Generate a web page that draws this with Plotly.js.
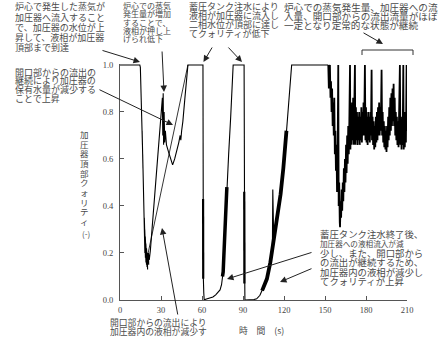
<!DOCTYPE html>
<html><head><meta charset="utf-8">
<script src="https://cdn.plot.ly/plotly-3.0.1.min.js"></script>
<style>body{margin:0;background:#fff}#chart{width:443px;height:337px}</style>
</head><body><div id="chart"></div>
<script>
// ---- data: time (s) and pressurizer-top quality (-) ----
const tSeg1 = [0, 14.5, 14.9, 15.2, 15.0, 15.6, 15.4, 16.0, 15.8, 16.4, 16.2, 16.8, 16.6, 17.2, 17.0, 17.6, 17.4, 17.9, 17.5, 18.0, 17.6, 18.2, 17.8, 18.6, 18.1, 19.0, 18.5, 19.4, 18.9, 19.8, 19.4, 20.2, 19.9, 20.6, 20.4, 21.0, 20.8, 21.4, 21.8, 22.2,
  31.0, 31.3, 31.6, 31.9, 32.3, 32.7, 33.2, 34.0, 35.5, 37.0, 38.5, 40.0, 41.5, 43.0, 44.0, 44.5, 45.1, 46.0, 47.5, 49.7, 60.7];
const qSeg1 = [1.0, 1.0, 0.99, 0.94, 0.97, 0.85, 0.90, 0.76, 0.82, 0.66, 0.72, 0.56, 0.62, 0.46, 0.52, 0.38, 0.44, 0.25, 0.42, 0.22, 0.40, 0.20, 0.35, 0.18, 0.30, 0.16, 0.27, 0.15, 0.24, 0.14, 0.22, 0.13, 0.20, 0.14, 0.19, 0.15, 0.20, 0.17, 0.19, 0.21,
  0.86, 0.70, 0.88, 0.66, 0.80, 0.67, 0.72, 0.66, 0.63, 0.60, 0.575, 0.60, 0.63, 0.67, 0.70, 0.68, 0.72, 0.76, 0.86, 1.0, 1.0];
const tSeg2 = [60.7, 60.7, 61.1, 60.8, 61.2, 60.9, 61.2, 61.0, 61.3, 61.6, 62.7, 64, 66, 68, 70, 71.5, 73.2, 74.3, 75.0, 75.5, 76.0, 76.5, 77.0, 77.5, 78.2, 79.5, 81.0, 82.8, 90.8];
const qSeg2 = [1.0, 0.45, 0.40, 0.33, 0.27, 0.20, 0.14, 0.09, 0.03, 0.0, 0.003, 0.006, 0.009, 0.013, 0.022, 0.03, 0.043, 0.065, 0.10, 0.12, 0.19, 0.26, 0.33, 0.40, 0.48, 0.62, 0.78, 1.0, 1.0];
const tSeg3 = [90.8, 90.8, 91.2, 90.9, 91.3, 91.4, 93, 96, 98, 100, 101, 102.4, 103.5, 104.8, 106, 107.5, 110, 111.5, 111.8, 112.5, 115, 117.5, 119.5, 120.8, 121.8, 123.0, 124.2, 125.6, 152.4];
const qSeg3 = [1.0, 0.47, 0.20, 0.30, 0.07, 0.0, 0.0, 0.0, 0.002, 0.005, 0.01, 0.02, 0.035, 0.05, 0.065, 0.09, 0.16, 0.21, 0.47, 0.25, 0.34, 0.45, 0.56, 0.64, 0.72, 0.82, 0.91, 1.0, 1.0];
// densely oscillating (dark band) stretches
const tBand2 = [75.0, 75.5, 76.0, 76.5, 77.0, 77.5, 78.2];
const qBand2 = [0.10, 0.12, 0.19, 0.26, 0.33, 0.40, 0.48];
const tBand3 = [104.0, 106.0, 107.5, 110.0, 112.5, 115.0, 117.5, 119.5, 120.8, 121.8];
const qBand3 = [0.04, 0.065, 0.09, 0.16, 0.25, 0.34, 0.45, 0.56, 0.64, 0.72];
const tDrop2 = [60.8, 60.9];
const qDrop2 = [0.43, 0.09];
const tDrop3 = [90.9, 91.0];
const qDrop3 = [0.46, 0.07];
const tSeg4 = [152.4, 152.8, 153.2, 153.6, 154.0, 154.4, 154.8, 155.2, 155.6, 156.0, 156.4, 156.8, 157.2, 157.6, 158.0, 158.4, 158.8, 159.2, 159.7, 160.0,
  160.4, 160.8, 161.0, 161.4, 161.8, 162.2, 162.6, 163.0, 163.4, 163.8, 164.2, 164.6, 165.0, 165.4, 165.8, 166.2, 166.6, 167.0, 167.4, 167.8,
  168.3, 168.6, 169.0, 169.4, 169.8, 170.2, 170.6, 171.0, 171.4, 171.9, 172.2, 172.6, 173.0, 173.4, 173.8, 174.2, 174.6, 175.0, 175.4, 175.8,
  176.2, 176.6, 177.0, 177.4, 177.8, 178.2, 178.6, 179.2, 179.6, 180.0, 180.4, 180.8, 181.2, 181.6, 182.0, 182.4, 182.8, 183.2, 183.6, 184.1,
  184.4, 184.8, 185.2, 185.6, 186.0, 186.4, 186.8, 187.2, 187.6, 188.0, 188.4, 188.8, 189.2, 189.6, 190.0, 190.4, 190.8, 191.4, 191.8, 192.2,
  192.6, 193.0, 193.4, 193.8, 194.2, 194.6, 195.0, 195.4, 195.8, 196.2, 196.6, 197.0, 197.4, 197.8, 198.2, 198.6, 199.0, 199.4, 199.8, 200.2,
  200.6, 201.0, 201.4, 201.8, 202.2, 202.6, 203.0, 203.4, 203.8, 204.2, 204.8, 205.2, 205.6, 206.0, 206.4, 206.8, 207.3, 207.6, 208.0, 208.4,
  208.8, 209.2, 209.7, 210.0];
const qSeg4 = [1.0, 0.90, 0.97, 1.00, 0.86, 0.93, 0.80, 0.90, 0.74, 0.84, 0.70, 0.86, 0.62, 0.72, 0.55, 0.66, 0.46, 0.58, 1.00, 0.40,
  0.50, 0.33, 0.31, 0.42, 0.35, 0.47, 0.38, 0.50, 0.42, 0.56, 0.46, 0.60, 0.50, 0.66, 0.54, 0.70, 0.58, 0.74, 0.62, 0.76,
  1.00, 0.64, 0.80, 0.66, 0.84, 0.68, 0.86, 0.66, 0.88, 1.00, 0.66, 0.82, 0.68, 0.80, 0.66, 0.78, 0.68, 0.80, 0.66, 0.78,
  0.68, 0.82, 0.67, 0.80, 0.70, 0.84, 0.70, 1.00, 0.68, 0.82, 0.67, 0.78, 0.66, 0.80, 0.68, 0.78, 0.67, 0.80, 0.70, 0.98,
  0.68, 0.78, 0.66, 0.76, 0.64, 0.74, 0.65, 0.78, 0.67, 0.80, 0.68, 0.82, 0.70, 0.84, 0.70, 0.82, 0.72, 0.98, 0.70, 0.80,
  0.67, 0.76, 0.65, 0.74, 0.64, 0.72, 0.63, 0.74, 0.65, 0.78, 0.68, 0.82, 0.70, 0.86, 0.72, 0.88, 0.74, 0.90, 0.76, 0.92,
  0.74, 0.86, 0.70, 0.80, 0.68, 0.78, 0.66, 0.76, 0.65, 0.78, 1.00, 0.66, 0.78, 0.64, 0.76, 0.66, 1.00, 0.64, 0.76, 0.65,
  0.80, 0.67, 1.00, 0.72];
// thin straight branch from the first minimum to the top
const tBranch = [19.5, 49.7];
const qBranch = [0.17, 1.0];

const xTicks = [0, 30, 60, 90, 120, 150, 180, 210];
const yTicks = [0, 0.2, 0.4, 0.6, 0.8, 1.0];
const yTickText = ['0.0', '0.2', '0.4', '0.6', '0.8', '1.0'];

const xTitle = '時　間　(s)';
const yTitleChars = '加圧器頂部クォリティ';
const yUnit = '(-)';

const notes = [
  {x: 13, y0: 7, dy: 10.1, size: 9, lines: ['炉心で発生した蒸気が', '加圧器へ流入すること', 'で、加圧器の水位が上', '昇して、液相が加圧器', '頂部まで到達']},
  {x: 13, y0: 72, dy: 8.9, size: 9, lines: ['開口部からの流出の', '継続により加圧器の', '保有水量が減少する', 'ことで上昇']},
  {x: 121, y0: 5.5, dy: 8.3, size: 8, lines: ['炉心での蒸気', '発生量が増加', 'することで、', '液相が押し上', 'げられ低下']},
  {x: 187, y0: 6.7, dy: 8.9, size: 9, lines: ['蓄圧タンク注水により', '液相が加圧器に流入し', '二相水位が頂部に達し', 'てクォリティが低下']},
  {x: 282, y0: 6.5, dy: 9.2, size: 9.6, lines: ['炉心での蒸気発生量、加圧器への流', '入量、開口部からの流出流量がほぼ', '一定となり定常的な状態が継続']},
  {x: 318, y0: 234, dy: 9.4, size: 9.4, lines: ['蓄圧タンク注水終了後、', '加圧器への液相流入が減', '少し、また、開口部から', 'の流出が継続するため、', '加圧器内の液相が減少し', 'てクォリティが上昇']},
  {x: 108, y0: 322.5, dy: 8.5, size: 8.8, lines: ['開口部からの流出により', '加圧器内の液相が減少す']}
];
// arrows: head (hx,hy) and tail (tx,ty) in page pixels
const arrows = [
  {hx: 140, hy: 62, tx: 101, ty: 50},
  {hx: 173, hy: 125, tx: 98, ty: 89},
  {hx: 164, hy: 92, tx: 162, ty: 50},
  {hx: 203.5, hy: 62, tx: 213, ty: 46},
  {hx: 242, hy: 62, tx: 227, ty: 46},
  {hx: 383, hy: 44, tx: 362, ty: 32},
  {hx: 227, hy: 279, tx: 313, ty: 252},
  {hx: 280, hy: 282, tx: 313, ty: 268},
  {hx: 162, hy: 228, tx: 178, ty: 316}
];

const L = 120, R = 407, T = 64, B = 300;
const px = x => (x - L) / (R - L);
const py = y => (B - y) / (B - T);
const FONT = '"Noto Sans CJK JP", "Noto Sans", sans-serif';
const TXT = '#4a4a4a';

const annotations = [];
notes.forEach(n => n.lines.forEach((s, i) => {
  annotations.push({xref: 'paper', yref: 'paper', x: px(n.x), y: py(n.y0 + i * n.dy), xanchor: 'left', yanchor: 'middle',
    text: s, showarrow: false, font: {family: FONT, size: (n.size === 9.4 && i === 1) ? 7.6 : n.size, color: TXT}});
}));
arrows.forEach(a => annotations.push({xref: 'paper', yref: 'paper', x: px(a.hx), y: py(a.hy), ax: a.tx - a.hx, ay: a.ty - a.hy,
  axref: 'pixel', ayref: 'pixel', text: '', showarrow: true, arrowhead: 2, arrowsize: 1.3, arrowwidth: 1, arrowcolor: '#222', standoff: 0}));
Array.from(yTitleChars).forEach((c, i) => annotations.push({xref: 'paper', yref: 'paper', x: px(84.5), y: py(134 + i * 9.67),
  xanchor: 'center', yanchor: 'middle', text: c, showarrow: false, font: {family: FONT, size: 8.5, color: TXT}}));
annotations.push({xref: 'paper', yref: 'paper', x: px(85.5), y: py(233.5), xanchor: 'center', yanchor: 'middle', text: yUnit,
  showarrow: false, font: {family: FONT, size: 8, color: TXT}});
annotations.push({xref: 'paper', yref: 'paper', x: px(237), y: py(330.5), xanchor: 'left', yanchor: 'middle', text: xTitle,
  showarrow: false, font: {family: FONT, size: 8.8, color: TXT}});

const shapes = [
  {type: 'line', xref: 'paper', yref: 'paper', x0: px(362), x1: px(413), y0: py(50), y1: py(50), line: {color: '#333', width: 1}},
  {type: 'line', xref: 'paper', yref: 'paper', x0: px(362), x1: px(362), y0: py(50), y1: py(55), line: {color: '#333', width: 1}},
  {type: 'line', xref: 'paper', yref: 'paper', x0: px(413), x1: px(413), y0: py(50), y1: py(55), line: {color: '#333', width: 1}}
];

const mainT = tSeg1.concat(tSeg2, tSeg3);
const mainQ = qSeg1.concat(qSeg2, qSeg3);
const ln = (x, y, w) => ({x: x, y: y, type: 'scatter', mode: 'lines', line: {color: '#000', width: w}, hoverinfo: 'skip'});

const traces = [
  ln(mainT, mainQ, 1.1),
  ln(tSeg4, qSeg4, 1.8),
  ln(tBand2, qBand2, 3.5),
  ln(tBand3, qBand3, 3.8),
  ln(tDrop2, qDrop2, 2.2),
  ln(tDrop3, qDrop3, 2.2),
  ln(tBranch, qBranch, 0.8)
];

const axFont = {family: '"Liberation Serif", "DejaVu Serif", serif', size: 8.5, color: '#444'};
const layout = {
  width: 443, height: 337, margin: {l: L, r: 443 - R, t: T, b: 337 - B},
  paper_bgcolor: '#fff', plot_bgcolor: '#fff', showlegend: false,
  xaxis: {range: [0, 210], tickvals: xTicks, ticks: 'inside', ticklen: 4, tickcolor: '#555', showline: true, linecolor: '#555', linewidth: 1,
    showgrid: false, zeroline: false, tickfont: axFont, ticklabelstandoff: 2},
  yaxis: {range: [0, 1.004], tickvals: yTicks, ticktext: yTickText, ticks: 'inside', ticklen: 4, tickcolor: '#555', showline: true, linecolor: '#555', linewidth: 1,
    showgrid: false, zeroline: false, tickfont: axFont, ticklabelstandoff: 4},
  annotations: annotations, shapes: shapes
};
Plotly.newPlot('chart', traces, layout, {staticPlot: true, displayModeBar: false});
</script></body></html>
